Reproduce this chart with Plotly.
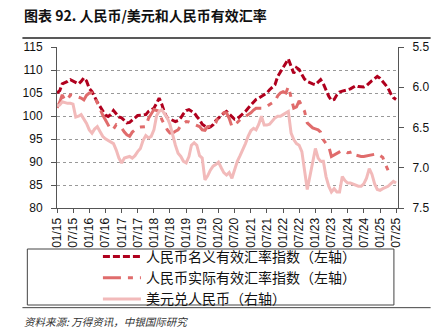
import pandas as pd
import plotly.graph_objects as go

# Monthly data, Jan 2015 onward
neer = [105.0, 105.5, 107.0, 107.2, 107.5, 107.9, 107.6, 107.3, 107.0, 107.5,
        108.3, 107.6, 106.0, 105.3, 104.0, 103.0, 102.1, 101.0, 100.2, 99.9,
        100.3, 101.2, 100.5, 99.8, 99.6, 99.0, 98.5, 98.6, 99.2, 99.6,
        100.1, 100.2, 100.3, 100.3, 101.0, 101.4, 101.7, 102.8, 103.9, 102.5,
        100.7, 99.6, 99.3, 99.0, 98.8, 99.0, 99.6, 100.5, 101.2, 101.4,
        101.0, 100.7, 99.9, 99.2, 98.2, 97.7, 97.4, 97.6, 98.1, 99.0,
        99.6, 100.2, 100.6, 101.0, 100.5, 99.8, 99.3, 99.4, 99.9, 100.3,
        101.0, 101.7, 102.4, 103.2, 103.6, 103.9, 104.3, 104.6, 105.0, 105.7,
        106.3, 106.8, 108.6, 109.5, 110.4, 111.5, 112.4, 110.8, 109.3, 110.5,
        110.1, 109.0, 108.0, 107.5, 107.2, 107.0, 106.8, 107.4, 107.9, 107.0,
        105.5, 104.3, 103.4, 103.6, 104.6, 105.2, 105.4, 105.5, 105.7, 105.9,
        106.3, 106.6, 106.4, 106.3, 106.3, 106.6, 107.2, 107.7, 108.1, 108.6,
        108.2, 107.4, 106.7, 106.1, 104.9, 104.0, 103.6]

reer = [101.8, 103.0, 104.6, 103.4, 103.6, 104.6, 104.5, 104.3, 104.2, 103.9,
        103.5, 104.5, 105.0, 105.0, 104.2, 102.8, 101.7, 100.2, 99.2, 98.0,
        97.0, 97.2, 98.1, 97.8, 97.4, 96.5, 95.9, 95.6, 96.5, 97.0,
        97.5, 97.6, 97.7, 97.7, 99.5, 100.3, 101.4, 101.2, 101.0, 99.2,
        98.0, 97.0, 96.3, 96.3, 96.7, 97.0, 97.9, 98.3, 98.8, 98.7,
        98.5, 98.2, 97.9, 97.7, 97.0, 96.9, 97.7, 97.7, 97.8, 98.5,
        100.0, 100.3, 100.7, 100.7, 99.5, 97.7, 98.1, 98.6, 99.2, 99.5,
        99.9, 100.3, 100.7, 101.3, 101.7, 101.7, 101.7, 101.9, 102.1, 102.5,
        102.8, 103.2, 104.4, 105.0, 105.3, 105.0, 106.4, 104.0, 101.7, 102.0,
        103.3, 102.2, 101.0, 98.5, 97.9, 97.4, 97.2, 97.0, 96.5, 94.8,
        94.0, 93.4, 91.2, 91.6, 92.0, 92.2, 92.5, 92.3, 92.0, 92.1,
        92.3, 91.5, 91.3, 91.2, 91.2, 91.3, 91.4, 91.5, 91.6, 91.8,
        91.4, 91.0, 89.6, 88.2]

usdcny = [6.23, 6.22, 6.18, 6.19, 6.20, 6.20, 6.21, 6.37, 6.36, 6.34,
          6.40, 6.45, 6.53, 6.57, 6.52, 6.49, 6.55, 6.61, 6.64, 6.66,
          6.68, 6.70, 6.78, 6.88, 6.94, 6.88, 6.87, 6.86, 6.88, 6.85,
          6.80, 6.76, 6.66, 6.60, 6.63, 6.61, 6.53, 6.35, 6.30, 6.28,
          6.33, 6.38, 6.46, 6.60, 6.72, 6.82, 6.86, 6.92, 6.94, 6.86,
          6.72, 6.69, 6.72, 6.85, 6.88, 7.15, 7.10, 7.03, 6.98, 6.96,
          6.93, 7.00, 7.06, 7.09, 7.06, 7.13, 7.03, 6.92, 6.85, 6.78,
          6.70, 6.61, 6.54, 6.51, 6.53, 6.46, 6.36, 6.47, 6.47, 6.46,
          6.42, 6.38, 6.36, 6.36, 6.34, 6.32, 6.30, 6.57, 6.65, 6.70,
          6.72, 6.80, 7.05, 7.27, 7.10, 6.95, 6.76, 6.88, 6.92, 6.92,
          7.11, 7.23, 7.30, 7.26, 7.30, 7.30, 7.11, 7.16, 7.19, 7.19,
          7.20, 7.22, 7.23, 7.23, 7.20, 7.13, 7.01, 7.08, 7.20, 7.27,
          7.28, 7.26, 7.25, 7.23, 7.20, 7.17, 7.19]

tick_labels = ["01/15", "07/15", "01/16", "07/16", "01/17", "07/17", "01/18", "07/18",
               "01/19", "07/19", "01/20", "07/20", "01/21", "07/21", "01/22", "07/22",
               "01/23", "07/23", "01/24", "07/24", "01/25", "07/25"]
left_ticks = [80, 85, 90, 95, 100, 105, 110, 115]
right_ticks = [5.5, 6.0, 6.5, 7.0, 7.5]

names = ["人民币名义有效汇率指数（左轴）", "人民币实际有效汇率指数（左轴）", "美元兑人民币（右轴）"]

dates = pd.date_range("2015-01-01", periods=len(neer), freq="MS")
tick_dates = pd.date_range("2015-01-01", periods=len(tick_labels), freq="6MS")

fig = go.Figure()
fig.add_trace(go.Scatter(x=dates, y=neer, name=names[0], mode="lines",
                         line=dict(color="#B0001E", width=3, dash="7px,3px")))
fig.add_trace(go.Scatter(x=dates[:len(reer)], y=reer, name=names[1], mode="lines",
                         line=dict(color="#E06C6C", width=3, dash="18px,7px,5px,7px")))
fig.add_trace(go.Scatter(x=dates, y=usdcny, name=names[2], mode="lines", yaxis="y2",
                         line=dict(color="#F2BABA", width=3)))

tickfont = dict(family="Liberation Sans, Arial, sans-serif", size=12, color="#111")

fig.update_layout(
    width=441, height=335,
    margin=dict(l=57, r=39, t=47, b=127),
    paper_bgcolor="white", plot_bgcolor="white",
    font=dict(family="Liberation Sans, Noto Sans CJK SC, sans-serif"),
    xaxis=dict(type="date", range=["2015-01-01", "2025-07-23"],
               tickvals=tick_dates, ticktext=tick_labels, tickangle=-90,
               ticks="outside", ticklen=4, tickcolor="#555",
               showline=True, linecolor="#555", linewidth=1,
               showgrid=False, zeroline=False, tickfont=tickfont),
    yaxis=dict(range=[80, 115], tickvals=left_ticks,
               ticks="outside", ticklen=5, tickcolor="#555",
               showline=True, linecolor="#555", linewidth=1,
               showgrid=True, gridcolor="#999", griddash="dot", gridwidth=1,
               zeroline=False, tickfont=tickfont, ticklabelstandoff=6),
    yaxis2=dict(range=[7.5, 5.5], tickvals=right_ticks, tickformat=".1f",
                overlaying="y", side="right",
                ticks="outside", ticklen=5, tickcolor="#555",
                showline=True, linecolor="#555", linewidth=1,
                showgrid=False, zeroline=False, tickfont=tickfont, ticklabelstandoff=6),
    showlegend=True,
    legend=dict(x=0.12, y=-0.205, xanchor="left", yanchor="top",
                orientation="v", bgcolor="rgba(0,0,0,0)", borderwidth=0,
                font=dict(family="Noto Sans CJK SC", size=14, color="#111"),
                itemwidth=38, tracegroupgap=0),
)

# frame lines and legend box
fig.add_shape(type="line", xref="paper", yref="paper", x0=-0.1014, x1=1.0957, y0=1.056, y1=1.056,
              line=dict(color="#222", width=1.5))
fig.add_shape(type="rect", xref="paper", yref="paper", x0=-0.087, x1=0.988, y0=-0.2547, y1=-0.6025,
              line=dict(color="#444", width=1))
fig.add_shape(type="line", xref="paper", yref="paper", x0=-0.1014, x1=1.0957, y0=-0.619, y1=-0.619,
              line=dict(color="#444", width=1))

fig.add_annotation(text="<b>图表 92. 人民币/美元和人民币有效汇率</b>", xref="paper", yref="paper",
                   x=-0.1014, y=1.199, xanchor="left", yanchor="middle", showarrow=False,
                   font=dict(family="Noto Sans CJK SC", size=14, color="#111"))
fig.add_annotation(text="<i>资料来源: 万得资讯，中银国际研究</i>", xref="paper", yref="paper",
                   x=-0.1014, y=-0.702, xanchor="left", yanchor="middle", showarrow=False,
                   font=dict(family="Noto Sans CJK SC", size=10.5, color="#333"))

fig.write_html("out.html")
